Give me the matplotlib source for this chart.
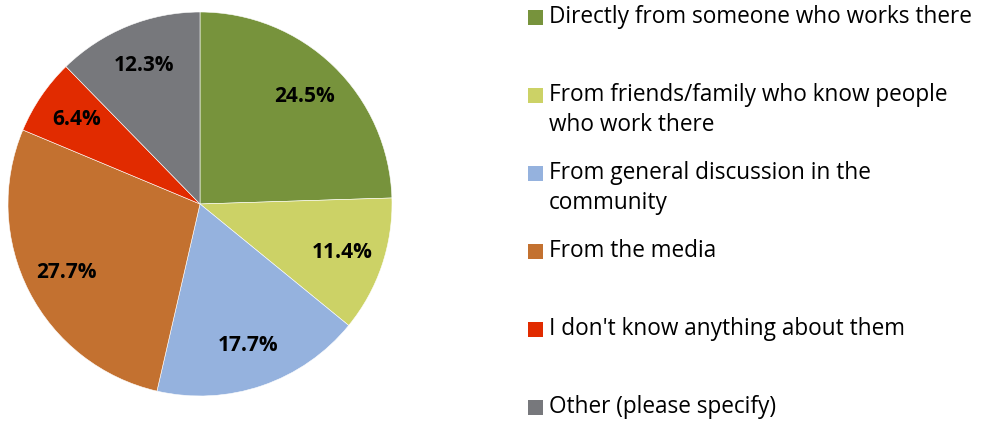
import matplotlib.pyplot as plt
from matplotlib.patches import Rectangle

categories = [
    "Directly from someone who works there",
    "From friends/family who know people\nwho work there",
    "From general discussion in the\ncommunity",
    "From the media",
    "I don't know anything about them",
    "Other (please specify)",
]
values = [24.5, 11.4, 17.7, 27.7, 6.4, 12.3]
colors = ["#77933C", "#CCD266", "#95B2DE", "#C37130", "#E12B00", "#77787C"]

plt.rcParams['font.family'] = ['Open Sans', 'DejaVu Sans']

W, H = 987, 425
fig = plt.figure(figsize=(W / 100, H / 100), dpi=100)

# pie: centre (200, 204) px, radius 192 px
cx, cy, r = 200, 204, 192
ax = fig.add_axes([(cx - r) / W, (H - cy - r) / H, 2 * r / W, 2 * r / H])
wedges, texts, autotexts = ax.pie(
    values, colors=colors, startangle=90, counterclock=False,
    autopct='%1.1f%%', pctdistance=0.78,
    wedgeprops=dict(edgecolor='white', linewidth=0.4),
    textprops=dict(fontsize=15, fontweight='bold', color='black'),
)
ax.set_xlim(-1, 1)
ax.set_ylim(-1, 1)
ax.set_aspect('equal')
ax.axis('off')

# legend drawn by hand, one entry every 78 px, wrapped lines 30 px apart
lax = fig.add_axes([0, 0, 1, 1])
lax.set_xlim(0, W)
lax.set_ylim(H, 0)
lax.axis('off')
y0, step, line_h = 17, 78, 30
for i, (lab, col) in enumerate(zip(categories, colors)):
    y = y0 + i * step
    lax.add_patch(Rectangle((528, y - 7.5), 15, 15, facecolor=col, edgecolor='none'))
    for k, line in enumerate(lab.split('\n')):
        lax.text(549, y + 6 + k * line_h, line, fontsize=16.3, va='baseline',
                 ha='left', color='black')

fig.savefig('out.png', dpi=100)
